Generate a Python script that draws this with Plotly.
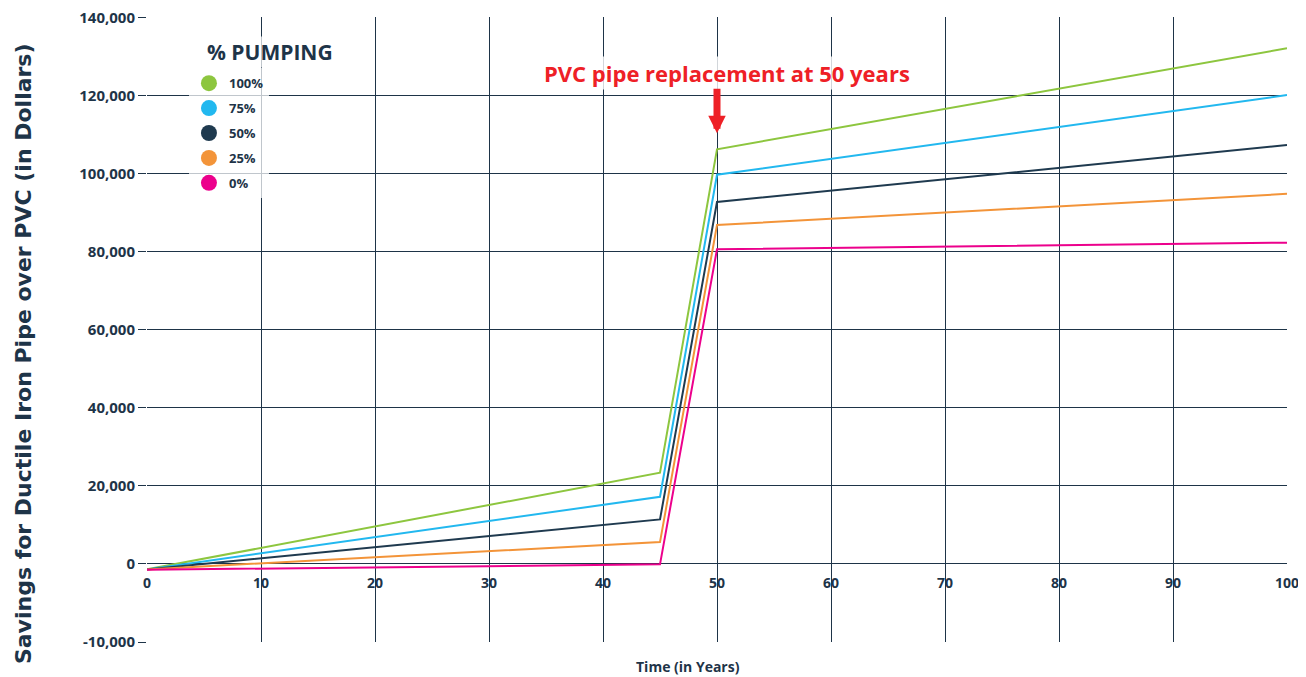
import plotly.graph_objects as go

# ---- data ----
years = [0, 45, 50, 100]
series_names = ["100%", "75%", "50%", "25%", "0%"]
pump_100 = [-1400, 23350, 106200, 132100]
pump_75 = [-1400, 17200, 99700, 120100]
pump_50 = [-1400, 11400, 92700, 107300]
pump_25 = [-1400, 5600, 86800, 94800]
pump_0 = [-1500, -100, 80600, 82300]
series_values = [pump_100, pump_75, pump_50, pump_25, pump_0]
series_colors = ["#8dc63f", "#22b8ef", "#1f3a4f", "#f39439", "#ec008c"]

y_tickvals = [-20000, 0, 20000, 40000, 60000, 80000, 100000, 120000, 140000]
y_ticktext = ["-10,000", "0", "20,000", "40,000", "60,000", "80,000", "100,000", "120,000", "140,000"]
x_tickvals = [0, 10, 20, 30, 40, 50, 60, 70, 80, 90, 100]

NAVY = "#1e3448"
FONT = "Open Sans"

fig = go.Figure()
for name, vals, col in zip(series_names, series_values, series_colors):
    fig.add_trace(go.Scatter(x=years, y=vals, mode="lines", name=name,
                             line=dict(color=col, width=2), showlegend=False))
for name, col in zip(series_names, series_colors):
    fig.add_trace(go.Scatter(x=[None], y=[None], mode="markers", name=name,
                             legendgroup=name,
                             marker=dict(color=col, size=16, symbol="circle"),
                             showlegend=True))

fig.update_layout(
    width=1298, height=669,
    margin=dict(l=139, r=19, t=9, b=35, autoexpand=False),
    plot_bgcolor="white", paper_bgcolor="white",
    font=dict(family=FONT, color=NAVY),
    showlegend=True,
    legend=dict(
        x=0.0368, y=0.918, xanchor="left", yanchor="top",
        bgcolor="rgba(255,255,255,0.72)",
        font=dict(size=13, weight="bold", color=NAVY, family=FONT),
        tracegroupgap=5,
        traceorder="grouped",
        entrywidth=125, entrywidthmode="pixels",
    ),
    xaxis=dict(
        range=[0, 100], tickvals=x_tickvals,
        showgrid=True, gridcolor=NAVY, gridwidth=1,
        zeroline=False, showline=False, automargin=False,
        anchor="free", position=0.125,
        ticks="", ticklabelstandoff=9,
        tickfont=dict(size=14, weight="bold", color=NAVY, family=FONT),
    ),
    yaxis=dict(
        range=[-20000, 140100], tickvals=y_tickvals, ticktext=y_ticktext,
        showgrid=True, gridcolor=NAVY, gridwidth=1,
        zeroline=False, showline=False, automargin=False,
        ticks="outside", ticklen=8, tickcolor=NAVY, tickwidth=1,
        ticklabeloverflow="allow",
        tickfont=dict(size=15, weight="bold", color=NAVY, family=FONT),
    ),
)

# legend heading
fig.add_annotation(text="% PUMPING", xref="paper", yref="paper",
                   x=0.108, y=0.944, xanchor="center", yanchor="middle",
                   showarrow=False, bgcolor="rgba(255,255,255,0.72)",
                   font=dict(size=21, weight="bold", color=NAVY, family=FONT))

# axis titles
fig.add_annotation(text="Savings for Ductile Iron Pipe over PVC (in Dollars)",
                   xref="paper", yref="paper", x=-0.1087, y=0.4608,
                   xanchor="center", yanchor="middle",
                   textangle=-90, showarrow=False,
                   font=dict(size=22, weight="bold", color=NAVY, family="DejaVu Sans"))
fig.add_annotation(text="Time (in Years)", xref="paper", yref="paper",
                   x=0.4746, y=-0.0384, xanchor="center", yanchor="middle",
                   showarrow=False,
                   font=dict(size=14, weight="bold", color=NAVY, family=FONT))

# callout
fig.add_annotation(text="PVC pipe replacement at 50 years", x=50, y=125700,
                   xshift=10, showarrow=False, bgcolor="rgba(255,255,255,0.8)",
                   xanchor="center", yanchor="middle",
                   font=dict(size=22, weight="bold", color="#ee2026", family=FONT))
fig.add_annotation(text="", x=50, y=110300, ax=0, ay=-46,
                   showarrow=True, arrowhead=2, arrowsize=0.5, arrowwidth=7,
                   arrowcolor="#ee2026", standoff=0)

fig.write_html("out.html")
